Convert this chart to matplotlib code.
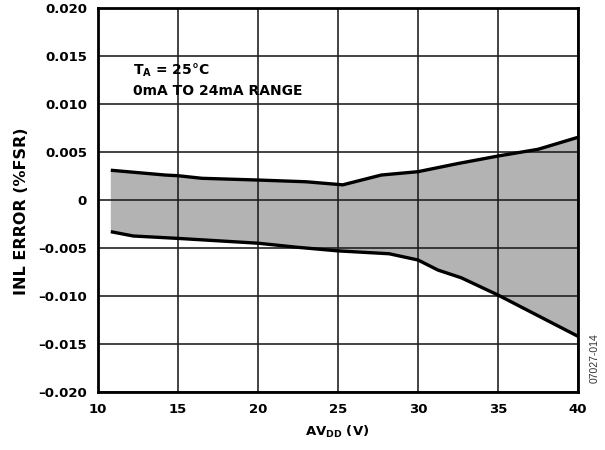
import matplotlib
matplotlib.use("Agg")
import matplotlib.pyplot as plt
from matplotlib.ticker import FixedLocator, FixedFormatter
from matplotlib.patches import Rectangle

plt.rcParams['font.family'] = ['DejaVu Sans']
plt.rcParams['font.weight'] = 'bold'
plt.rcParams['mathtext.fontset'] = 'custom'
plt.rcParams['mathtext.rm'] = 'DejaVu Sans:bold'
plt.rcParams['mathtext.bf'] = 'DejaVu Sans:bold'
plt.rcParams['mathtext.it'] = 'DejaVu Sans:bold'

# Data (AVDD in V, INL error in %FSR)
upper_x = [10.8, 14.2, 15.0, 16.5, 20.0, 23.0, 25.3, 27.7, 30.0, 32.5, 35.0, 37.5, 40.0]
upper_y = [0.0031, 0.0026, 0.00253, 0.00226, 0.00208, 0.0019, 0.00158, 0.0026, 0.00295, 0.0038, 0.00458, 0.00528, 0.00653]
lower_x = [10.8, 12.2, 15.0, 20.0, 22.3, 25.0, 28.2, 30.0, 31.25, 32.7, 35.0, 40.0]
lower_y = [-0.0033, -0.00375, -0.0040, -0.0045, -0.0049, -0.0053, -0.0056, -0.00625, -0.0073, -0.0081, -0.0099, -0.0142]

x_ticks = [10, 15, 20, 25, 30, 35, 40]
x_ticklabels = ["10", "15", "20", "25", "30", "35", "40"]
y_ticks = [-0.020, -0.015, -0.010, -0.005, 0, 0.005, 0.010, 0.015, 0.020]
y_ticklabels = ["\u20130.020", "\u20130.015", "\u20130.010", "\u20130.005", "0",
                "0.005", "0.010", "0.015", "0.020"]

fig = plt.figure(figsize=(6.05, 4.5), dpi=100)
ax = fig.add_axes([98/605, 1-392/450, 480/605, 384/450])

poly_x = upper_x + lower_x[::-1]
poly_y = upper_y + lower_y[::-1]
ax.fill(poly_x, poly_y, color='#b3b3b3', lw=0, zorder=1)

ax.set_xlim(10, 40)
ax.set_ylim(-0.020, 0.020)
ax.xaxis.set_major_locator(FixedLocator(x_ticks))
ax.xaxis.set_major_formatter(FixedFormatter(x_ticklabels))
ax.yaxis.set_major_locator(FixedLocator(y_ticks))
ax.yaxis.set_major_formatter(FixedFormatter(y_ticklabels))
ax.grid(True, color='#222222', lw=1.2, zorder=2)
ax.set_axisbelow(False)

ax.plot(upper_x, upper_y, color='black', lw=2.4, zorder=3, solid_capstyle='butt')
ax.plot(lower_x, lower_y, color='black', lw=2.4, zorder=3, solid_capstyle='butt')

for s in ax.spines.values():
    s.set_linewidth(2.0)
    s.set_color('black')
    s.set_zorder(4)

ax.tick_params(length=0, labelsize=9.5, pad=8)
for lab in ax.get_xticklabels() + ax.get_yticklabels():
    lab.set_fontweight('bold')

# white box behind annotation (hides vertical grid lines)
ax.add_patch(Rectangle((11.5, 0.0102), 12.5, 0.0046, facecolor='white', edgecolor='none', zorder=2.5))
ax.text(12.19, 0.01347, "T$_{\\mathrm{A}}$ = 25\u00b0C", fontsize=10, fontweight='bold',
        va='center', ha='left', zorder=5)
ax.text(12.19, 0.01139, "0mA TO 24mA RANGE", fontsize=10, fontweight='bold',
        va='center', ha='left', zorder=5)

fig.text(21.5/605, 1-211/450, "INL ERROR (%FSR)", rotation=90, fontsize=11.5,
         fontweight='bold', ha='center', va='center')
fig.text(337/605, 1-432/450, "AV$_{\\mathrm{DD}}$ (V)", fontsize=9.5, fontweight='bold',
         ha='center', va='center')

fig.text(594.5/605, 1-358/450, "07027-014", rotation=90, fontsize=7.5, fontweight='normal',
         family='Liberation Sans', ha='center', va='center', color='#333333')

fig.savefig("out.png", dpi=100)
